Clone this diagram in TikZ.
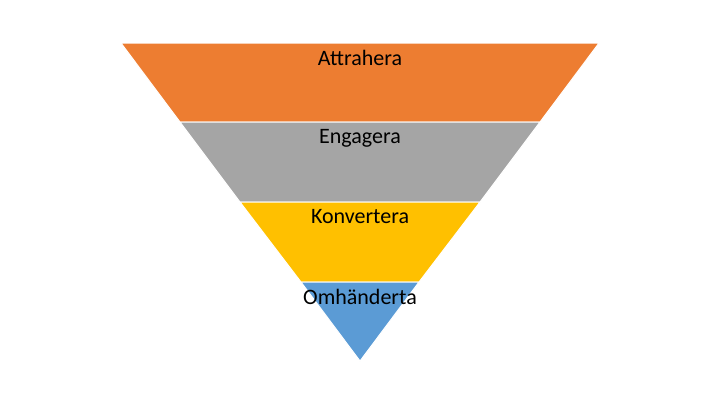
\documentclass[tikz,border=0pt]{standalone}
\usepackage{fontspec}
\setmainfont{Carlito}
\usepackage{tikz}
\definecolor{funnelorange}{RGB}{237,125,49}
\definecolor{funnelgray}{RGB}{165,165,165}
\definecolor{funnelgold}{RGB}{255,192,0}
\definecolor{funnelblue}{RGB}{91,155,213}
\tikzset{
    band/.style={draw=white, line width=1pt},
    bandlabel/.style={font=\fontsize{22}{26}\selectfont, text=black, inner sep=0pt}
}
\begin{document}
\begin{tikzpicture}[x=1pt, y=-1pt]
    \useasboundingbox (0,0) rectangle (720,405);

    % Bands
    \fill[band, fill=funnelorange] (121,43) -- (599,43) -- (540,122) -- (180,122) -- cycle;
    \fill[band, fill=funnelgray] (180,122) -- (540,122) -- (480,202) -- (240,202) -- cycle;
    \fill[band, fill=funnelgold] (240,202) -- (480,202) -- (419,282) -- (301,282) -- cycle;
    \fill[band, fill=funnelblue] (301,282) -- (419,282) -- (360,361) -- cycle;

    % Labels
    \node[bandlabel] (attract) at (360,58) {Attrahera};
    \node[bandlabel] (engage) at (360,138) {Engagera};
    \node[bandlabel] (convert) at (360,217) {Konvertera};
    \node[bandlabel] (handle) at (360,297) {Omhänderta};
\end{tikzpicture}
\end{document}
